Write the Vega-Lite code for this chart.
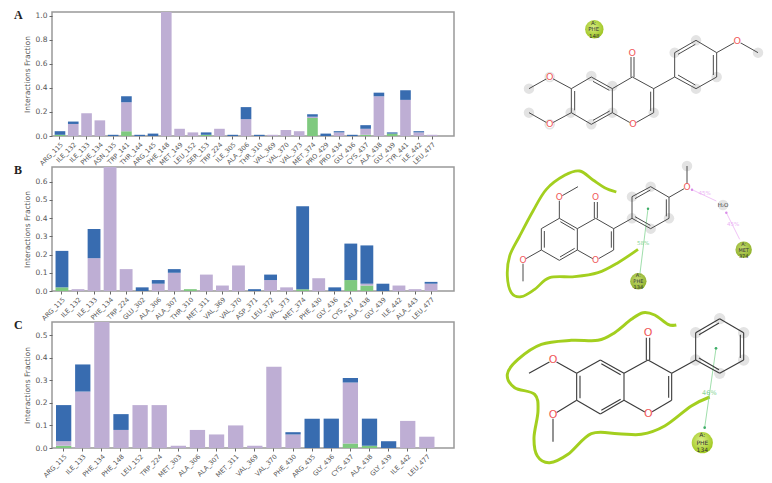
{"$schema":"https://vega.github.io/schema/vega-lite/v6.json","padding":{"left":13,"top":7,"right":0,"bottom":0},"background":"white","spacing":23,"config":{"view":{"stroke":null},"axis":{"labelFont":"DejaVu Sans","titleFont":"DejaVu Sans","titleFontWeight":"normal","labelColor":"#555555","titleColor":"#555555","tickColor":"#666666","tickSize":3,"domain":false,"grid":false},"title":{"font":"Liberation Serif","fontWeight":"bold","fontSize":12,"color":"#222222"}},"hconcat":[{"bounds":"flush","spacing":31,"vconcat":[{"width":402,"height":124,"title":{"text":"A","anchor":"start","frame":"group","dx":-38,"dy":10,"offset":0},"view":{"stroke":"#999999","strokeWidth":1.5},"data":{"values":[{"r":"ARG_115","t":"H","f":0.01,"k":1},{"r":"ARG_115","t":"W","f":0.03,"k":3},{"r":"ILE_132","t":"P","f":0.1,"k":2},{"r":"ILE_132","t":"W","f":0.02,"k":3},{"r":"ILE_133","t":"P","f":0.19,"k":2},{"r":"PHE_134","t":"P","f":0.13,"k":2},{"r":"ASN_135","t":"W","f":0.01,"k":3},{"r":"TRP_141","t":"H","f":0.04,"k":1},{"r":"TRP_141","t":"P","f":0.24,"k":2},{"r":"TRP_141","t":"W","f":0.05,"k":3},{"r":"THR_144","t":"W","f":0.01,"k":3},{"r":"ARG_145","t":"W","f":0.02,"k":3},{"r":"PHE_148","t":"P","f":1.03,"k":2},{"r":"MET_149","t":"P","f":0.06,"k":2},{"r":"LEU_152","t":"P","f":0.03,"k":2},{"r":"SER_153","t":"H","f":0.01,"k":1},{"r":"SER_153","t":"W","f":0.02,"k":3},{"r":"TRP_224","t":"P","f":0.06,"k":2},{"r":"ILE_305","t":"W","f":0.01,"k":3},{"r":"ALA_306","t":"P","f":0.14,"k":2},{"r":"ALA_306","t":"W","f":0.1,"k":3},{"r":"THR_310","t":"W","f":0.01,"k":3},{"r":"VAL_369","t":"P","f":0.01,"k":2},{"r":"VAL_370","t":"P","f":0.05,"k":2},{"r":"VAL_373","t":"P","f":0.04,"k":2},{"r":"MET_374","t":"H","f":0.15,"k":1},{"r":"MET_374","t":"P","f":0.01,"k":2},{"r":"MET_374","t":"W","f":0.02,"k":3},{"r":"PRO_429","t":"W","f":0.02,"k":3},{"r":"PRO_434","t":"P","f":0.03,"k":2},{"r":"PRO_434","t":"W","f":0.01,"k":3},{"r":"GLY_436","t":"W","f":0.01,"k":3},{"r":"CYS_437","t":"H","f":0.01,"k":1},{"r":"CYS_437","t":"P","f":0.05,"k":2},{"r":"CYS_437","t":"W","f":0.03,"k":3},{"r":"ALA_438","t":"P","f":0.33,"k":2},{"r":"ALA_438","t":"W","f":0.03,"k":3},{"r":"GLY_439","t":"H","f":0.02,"k":1},{"r":"GLY_439","t":"W","f":0.01,"k":3},{"r":"TYR_441","t":"P","f":0.3,"k":2},{"r":"TYR_441","t":"W","f":0.08,"k":3},{"r":"ILE_442","t":"P","f":0.03,"k":2},{"r":"ILE_442","t":"W","f":0.01,"k":3},{"r":"LEU_477","t":"P","f":0.01,"k":2}]},"mark":{"type":"bar","clip":true},"encoding":{"x":{"field":"r","type":"nominal","sort":null,"title":null,"scale":{"paddingInner":0.2,"paddingOuter":0.725,"align":0.138},"axis":{"labelAngle":-45,"labelFontSize":6.5}},"y":{"field":"f","type":"quantitative","stack":"zero","title":"Interactions Fraction","scale":{"domain":[0,1.03],"nice":false},"axis":{"values":[0,0.2,0.4,0.6,0.8,1],"format":".1f","labelFontSize":7.5,"titleFontSize":7.5,"titlePadding":4}},"color":{"field":"t","type":"nominal","legend":null,"scale":{"domain":["H","P","W"],"range":["#7fc97f","#beaed4","#386cb0"]}},"order":{"field":"k"}}},{"width":402,"height":124,"title":{"text":"B","anchor":"start","frame":"group","dx":-38,"dy":10,"offset":0},"view":{"stroke":"#999999","strokeWidth":1.5},"data":{"values":[{"r":"ARG_115","t":"H","f":0.02,"k":1},{"r":"ARG_115","t":"W","f":0.2,"k":3},{"r":"ILE_132","t":"P","f":0.01,"k":2},{"r":"ILE_133","t":"P","f":0.18,"k":2},{"r":"ILE_133","t":"W","f":0.16,"k":3},{"r":"PHE_134","t":"P","f":0.69,"k":2},{"r":"TRP_224","t":"P","f":0.12,"k":2},{"r":"GLU_302","t":"W","f":0.02,"k":3},{"r":"ALA_306","t":"P","f":0.04,"k":2},{"r":"ALA_306","t":"W","f":0.02,"k":3},{"r":"ALA_307","t":"P","f":0.1,"k":2},{"r":"ALA_307","t":"W","f":0.02,"k":3},{"r":"THR_310","t":"H","f":0.01,"k":1},{"r":"MET_311","t":"P","f":0.09,"k":2},{"r":"VAL_369","t":"P","f":0.03,"k":2},{"r":"VAL_370","t":"P","f":0.14,"k":2},{"r":"ASP_371","t":"W","f":0.01,"k":3},{"r":"LEU_372","t":"P","f":0.06,"k":2},{"r":"LEU_372","t":"W","f":0.03,"k":3},{"r":"VAL_373","t":"P","f":0.02,"k":2},{"r":"MET_374","t":"H","f":0.01,"k":1},{"r":"MET_374","t":"W","f":0.455,"k":3},{"r":"PHE_430","t":"P","f":0.07,"k":2},{"r":"GLY_436","t":"W","f":0.02,"k":3},{"r":"CYS_437","t":"H","f":0.06,"k":1},{"r":"CYS_437","t":"W","f":0.2,"k":3},{"r":"ALA_438","t":"H","f":0.03,"k":1},{"r":"ALA_438","t":"P","f":0.01,"k":2},{"r":"ALA_438","t":"W","f":0.21,"k":3},{"r":"GLY_439","t":"W","f":0.04,"k":3},{"r":"ILE_442","t":"P","f":0.03,"k":2},{"r":"ALA_443","t":"P","f":0.01,"k":2},{"r":"LEU_477","t":"P","f":0.04,"k":2},{"r":"LEU_477","t":"W","f":0.01,"k":3}]},"mark":{"type":"bar","clip":true},"encoding":{"x":{"field":"r","type":"nominal","sort":null,"title":null,"scale":{"paddingInner":0.2,"paddingOuter":0.625,"align":0.176},"axis":{"labelAngle":-45,"labelFontSize":6.5}},"y":{"field":"f","type":"quantitative","stack":"zero","title":"Interactions Fraction","scale":{"domain":[0,0.68],"nice":false},"axis":{"values":[0,0.1,0.2,0.3,0.4,0.5,0.6],"format":".1f","labelFontSize":7.5,"titleFontSize":7.5,"titlePadding":4}},"color":{"field":"t","type":"nominal","legend":null,"scale":{"domain":["H","P","W"],"range":["#7fc97f","#beaed4","#386cb0"]}},"order":{"field":"k"}}},{"width":402,"height":126,"title":{"text":"C","anchor":"start","frame":"group","dx":-38,"dy":10,"offset":0},"view":{"stroke":"#999999","strokeWidth":1.5},"data":{"values":[{"r":"ARG_115","t":"H","f":0.01,"k":1},{"r":"ARG_115","t":"P","f":0.02,"k":2},{"r":"ARG_115","t":"W","f":0.16,"k":3},{"r":"ILE_133","t":"P","f":0.25,"k":2},{"r":"ILE_133","t":"W","f":0.12,"k":3},{"r":"PHE_134","t":"P","f":0.56,"k":2},{"r":"PHE_148","t":"P","f":0.08,"k":2},{"r":"PHE_148","t":"W","f":0.07,"k":3},{"r":"LEU_152","t":"P","f":0.19,"k":2},{"r":"TRP_224","t":"P","f":0.19,"k":2},{"r":"MET_303","t":"P","f":0.01,"k":2},{"r":"ALA_306","t":"P","f":0.08,"k":2},{"r":"ALA_307","t":"P","f":0.06,"k":2},{"r":"MET_311","t":"P","f":0.1,"k":2},{"r":"VAL_369","t":"P","f":0.01,"k":2},{"r":"VAL_370","t":"P","f":0.36,"k":2},{"r":"PHE_430","t":"P","f":0.06,"k":2},{"r":"PHE_430","t":"W","f":0.01,"k":3},{"r":"ARG_435","t":"W","f":0.13,"k":3},{"r":"GLY_436","t":"W","f":0.13,"k":3},{"r":"CYS_437","t":"H","f":0.02,"k":1},{"r":"CYS_437","t":"P","f":0.27,"k":2},{"r":"CYS_437","t":"W","f":0.02,"k":3},{"r":"ALA_438","t":"H","f":0.01,"k":1},{"r":"ALA_438","t":"W","f":0.12,"k":3},{"r":"GLY_439","t":"W","f":0.03,"k":3},{"r":"ILE_442","t":"P","f":0.12,"k":2},{"r":"LEU_477","t":"P","f":0.05,"k":2}]},"mark":{"type":"bar","clip":true},"encoding":{"x":{"field":"r","type":"nominal","sort":null,"title":null,"scale":{"paddingInner":0.2,"paddingOuter":0.615,"align":0.17},"axis":{"labelAngle":-45,"labelFontSize":6.5}},"y":{"field":"f","type":"quantitative","stack":"zero","title":"Interactions Fraction","scale":{"domain":[0,0.558],"nice":false},"axis":{"values":[0,0.1,0.2,0.3,0.4,0.5],"format":".1f","labelFontSize":7.5,"titleFontSize":7.5,"titlePadding":4}},"color":{"field":"t","type":"nominal","legend":null,"scale":{"domain":["H","P","W"],"range":["#7fc97f","#beaed4","#386cb0"]}},"order":{"field":"k"}}}]},{"bounds":"flush","spacing":0,"vconcat":[{"width":292,"height":149,"encoding":{"x":{"field":"x","type":"quantitative","axis":null,"scale":{"domain":[0,876],"nice":false,"zero":false}},"y":{"field":"y","type":"quantitative","axis":null,"scale":{"domain":[480,33],"nice":false,"zero":false}}},"layer":[{"data":{"values":[{"x":340,"y":225},{"x":153,"y":263},{"x":153,"y":335},{"x":215,"y":228},{"x":215,"y":370},{"x":278,"y":335},{"x":340,"y":370},{"x":403,"y":255},{"x":403,"y":335},{"x":527,"y":335},{"x":590,"y":155},{"x":654,"y":118},{"x":716,"y":228},{"x":654,"y":263},{"x":840,"y":155}]},"mark":{"type":"circle","size":110,"color":"#e3e3e3","opacity":1}},{"data":{"values":[{"x":215,"y":228,"x2":153,"y2":263},{"x":215,"y":228,"x2":280,"y2":263},{"x":280,"y":263,"x2":340,"y2":228},{"x":340,"y":228,"x2":403,"y2":263},{"x":403,"y":263,"x2":463,"y2":228},{"x":463,"y":228,"x2":527,"y2":263},{"x":527,"y":263,"x2":527,"y2":335},{"x":527,"y":335,"x2":465,"y2":370},{"x":465,"y":370,"x2":403,"y2":335},{"x":403,"y":335,"x2":403,"y2":263},{"x":403,"y":335,"x2":340,"y2":370},{"x":340,"y":370,"x2":280,"y2":335},{"x":280,"y":335,"x2":280,"y2":263},{"x":280,"y":335,"x2":215,"y2":370},{"x":215,"y":370,"x2":153,"y2":335},{"x":527,"y":263,"x2":590,"y2":228},{"x":590,"y":228,"x2":590,"y2":155},{"x":590,"y":155,"x2":654,"y2":118},{"x":654,"y":118,"x2":716,"y2":155},{"x":716,"y":155,"x2":716,"y2":228},{"x":716,"y":228,"x2":654,"y2":263},{"x":654,"y":263,"x2":590,"y2":228},{"x":716,"y":155,"x2":778,"y2":120},{"x":778,"y":120,"x2":840,"y2":155},{"x":345,"y":241,"x2":394,"y2":268},{"x":290,"y":270,"x2":290,"y2":328},{"x":345,"y":358,"x2":395,"y2":330},{"x":518,"y":272,"x2":518,"y2":330},{"x":600,"y":160,"x2":652,"y2":130},{"x":706,"y":162,"x2":706,"y2":222},{"x":652,"y":252,"x2":600,"y2":222},{"x":459,"y":168,"x2":459,"y2":228},{"x":468,"y":168,"x2":468,"y2":228}]},"mark":{"type":"rule","color":"#4a4a4a","strokeWidth":1},"encoding":{"x2":{"field":"x2"},"y2":{"field":"y2"}}},{"data":{"values":[{"x":215,"y":228},{"x":215,"y":370},{"x":463,"y":155},{"x":465,"y":370},{"x":778,"y":120}]},"mark":{"type":"circle","size":55,"color":"white","opacity":1}},{"data":{"values":[{"x":215,"y":228,"a":"O"},{"x":215,"y":370,"a":"O"},{"x":463,"y":155,"a":"O"},{"x":465,"y":370,"a":"O"},{"x":778,"y":120,"a":"O"}]},"mark":{"type":"text","font":"DejaVu Sans","fontSize":9.5,"color":"#f0595a","baseline":"middle"},"encoding":{"text":{"field":"a"}}},{"data":{"values":[{"x":349,"y":85}]},"mark":{"type":"circle","size":340,"opacity":1,"color":{"gradient":"radial","x1":0.45,"y1":0.4,"x2":0.45,"y2":0.4,"r1":0,"r2":0.6,"stops":[{"offset":0,"color":"#d6ec84"},{"offset":1,"color":"#9dc41e"}]}}},{"data":{"values":[{"x":347,"y":65,"a":"A:"},{"x":347,"y":85,"a":"PHE"},{"x":349,"y":104,"a":"148"}]},"mark":{"type":"text","font":"DejaVu Sans","fontSize":5.5,"color":"#333333","baseline":"middle"},"encoding":{"text":{"field":"a"}}}]},{"width":292,"height":150,"encoding":{"x":{"field":"x","type":"quantitative","axis":null,"scale":{"domain":[0,876],"nice":false,"zero":false}},"y":{"field":"y","type":"quantitative","axis":null,"scale":{"domain":[465,15],"nice":false,"zero":false}}},"layer":[{"data":{"values":[{"x":627,"y":30},{"x":462,"y":122},{"x":518,"y":92},{"x":462,"y":187},{"x":573,"y":187},{"x":518,"y":218}]},"mark":{"type":"circle","size":110,"color":"#e3e3e3","opacity":1}},{"data":{"values":[{"i":1,"x":415,"y":108},{"i":2,"x":380,"y":95},{"i":3,"x":345,"y":72},{"i":4,"x":305,"y":45},{"i":5,"x":260,"y":58},{"i":6,"x":205,"y":100},{"i":7,"x":165,"y":165},{"i":8,"x":125,"y":240},{"i":9,"x":95,"y":300},{"i":10,"x":88,"y":360},{"i":11,"x":100,"y":410},{"i":12,"x":130,"y":422},{"i":13,"x":170,"y":400},{"i":14,"x":215,"y":365},{"i":15,"x":290,"y":362},{"i":16,"x":360,"y":350},{"i":17,"x":420,"y":320},{"i":18,"x":480,"y":280}]},"mark":{"type":"line","color":"#a3cf1f","strokeWidth":2.8,"interpolate":"cardinal"},"encoding":{"order":{"field":"i"}}},{"data":{"values":[{"x":510,"y":158,"x2":484,"y2":368,"c":"#86d596"},{"x":640,"y":100,"x2":715,"y2":135,"c":"#ecb4f4"},{"x":785,"y":250,"x2":745,"y2":170,"c":"#ecb4f4"}]},"mark":{"type":"rule","strokeWidth":0.8},"encoding":{"x2":{"field":"x2"},"y2":{"field":"y2"},"color":{"field":"c","type":"nominal","scale":null}}},{"data":{"values":[{"x":510,"y":158,"c":"#3fae68"},{"x":484,"y":368,"c":"#3fae68"},{"x":642,"y":101,"c":"#d98ce8"},{"x":745,"y":170,"c":"#d98ce8"}]},"mark":{"type":"circle","size":6,"opacity":1},"encoding":{"color":{"field":"c","type":"nominal","scale":null}}},{"data":{"values":[{"x":244,"y":124,"x2":300,"y2":92},{"x":244,"y":124,"x2":244,"y2":187},{"x":244,"y":187,"x2":190,"y2":218},{"x":190,"y":218,"x2":190,"y2":282},{"x":190,"y":282,"x2":244,"y2":313},{"x":244,"y":313,"x2":298,"y2":282},{"x":298,"y":282,"x2":298,"y2":218},{"x":298,"y":218,"x2":244,"y2":187},{"x":298,"y":218,"x2":353,"y2":187},{"x":353,"y":187,"x2":407,"y2":218},{"x":407,"y":218,"x2":407,"y2":282},{"x":407,"y":282,"x2":353,"y2":313},{"x":353,"y":313,"x2":298,"y2":282},{"x":190,"y":282,"x2":135,"y2":313},{"x":135,"y":313,"x2":135,"y2":376},{"x":407,"y":218,"x2":462,"y2":187},{"x":462,"y":187,"x2":462,"y2":122},{"x":462,"y":122,"x2":518,"y2":92},{"x":518,"y":92,"x2":573,"y2":124},{"x":573,"y":124,"x2":573,"y2":187},{"x":573,"y":187,"x2":518,"y2":218},{"x":518,"y":218,"x2":462,"y2":187},{"x":573,"y":124,"x2":627,"y2":93},{"x":627,"y":93,"x2":627,"y2":30},{"x":247,"y":197,"x2":290,"y2":222},{"x":199,"y":225,"x2":199,"y2":275},{"x":246,"y":303,"x2":290,"y2":277},{"x":400,"y":226,"x2":400,"y2":275},{"x":471,"y":128,"x2":517,"y2":102},{"x":565,"y":130,"x2":565,"y2":181},{"x":517,"y":208,"x2":471,"y2":182},{"x":349,"y":138,"x2":349,"y2":187},{"x":358,"y":138,"x2":358,"y2":187}]},"mark":{"type":"rule","color":"#4a4a4a","strokeWidth":1},"encoding":{"x2":{"field":"x2"},"y2":{"field":"y2"}}},{"data":{"values":[{"x":244,"y":124},{"x":353,"y":124},{"x":353,"y":313},{"x":135,"y":313},{"x":627,"y":93}]},"mark":{"type":"circle","size":45,"color":"white","opacity":1}},{"data":{"values":[{"x":244,"y":124,"a":"O"},{"x":353,"y":124,"a":"O"},{"x":353,"y":313,"a":"O"},{"x":135,"y":313,"a":"O"},{"x":627,"y":93,"a":"O"}]},"mark":{"type":"text","font":"DejaVu Sans","fontSize":9,"color":"#f0595a","baseline":"middle"},"encoding":{"text":{"field":"a"}}},{"data":{"values":[{"x":495,"y":262,"a":"58%","c":"#86d596"},{"x":680,"y":111,"a":"45%","c":"#ecb4f4"},{"x":765,"y":205,"a":"45%","c":"#ecb4f4"}]},"mark":{"type":"text","font":"DejaVu Sans","fontSize":5.5,"baseline":"middle"},"encoding":{"text":{"field":"a"},"color":{"field":"c","type":"nominal","scale":null}}},{"data":{"values":[{"x":735,"y":147}]},"mark":{"type":"circle","size":110,"color":"#e4e4e4","opacity":1}},{"data":{"values":[{"x":735,"y":147,"a":"H₂O"}]},"mark":{"type":"text","font":"DejaVu Sans","fontSize":5.5,"color":"#333333","baseline":"middle"},"encoding":{"text":{"field":"a"}}},{"data":{"values":[{"x":481,"y":376},{"x":797,"y":281}]},"mark":{"type":"circle","size":270,"opacity":1,"color":{"gradient":"radial","x1":0.45,"y1":0.4,"x2":0.45,"y2":0.4,"r1":0,"r2":0.6,"stops":[{"offset":0,"color":"#c6dc72"},{"offset":1,"color":"#8fb12a"}]}}},{"data":{"values":[{"x":481,"y":358,"a":"A:"},{"x":481,"y":375,"a":"PHE"},{"x":481,"y":393,"a":"134"},{"x":797,"y":263,"a":"A:"},{"x":797,"y":281,"a":"MET"},{"x":797,"y":299,"a":"374"}]},"mark":{"type":"text","font":"DejaVu Sans","fontSize":5,"color":"#333333","baseline":"middle"},"encoding":{"text":{"field":"a"}}}]},{"width":292,"height":173,"encoding":{"x":{"field":"x","type":"quantitative","axis":null,"scale":{"domain":[0,876],"nice":false,"zero":false}},"y":{"field":"y","type":"quantitative","axis":null,"scale":{"domain":[519,0],"nice":false,"zero":false}}},"layer":[{"data":{"values":[{"x":653,"y":65},{"x":725,"y":23},{"x":797,"y":65},{"x":797,"y":147},{"x":725,"y":187},{"x":653,"y":147}]},"mark":{"type":"circle","size":130,"color":"#e3e3e3","opacity":1}},{"data":{"values":[{"i":1,"x":595,"y":42},{"i":2,"x":570,"y":40},{"i":3,"x":530,"y":12},{"i":4,"x":495,"y":5},{"i":5,"x":460,"y":25},{"i":6,"x":410,"y":65},{"i":7,"x":360,"y":88},{"i":8,"x":280,"y":88},{"i":9,"x":190,"y":100},{"i":10,"x":120,"y":145},{"i":11,"x":88,"y":190},{"i":12,"x":110,"y":230},{"i":13,"x":170,"y":250},{"i":14,"x":180,"y":300},{"i":15,"x":168,"y":380},{"i":16,"x":178,"y":435},{"i":17,"x":215,"y":455},{"i":18,"x":270,"y":430},{"i":19,"x":340,"y":368},{"i":20,"x":420,"y":368},{"i":21,"x":490,"y":370},{"i":22,"x":560,"y":345},{"i":23,"x":640,"y":285},{"i":24,"x":695,"y":258}]},"mark":{"type":"line","color":"#a3cf1f","strokeWidth":3,"interpolate":"cardinal"},"encoding":{"order":{"field":"i"}}},{"data":{"values":[{"x":714,"y":112,"x2":680,"y2":350}]},"mark":{"type":"rule","color":"#86d596","strokeWidth":0.8},"encoding":{"x2":{"field":"x2"},"y2":{"field":"y2"}}},{"data":{"values":[{"x":714,"y":112},{"x":680,"y":350}]},"mark":{"type":"circle","size":7,"color":"#3fae68","opacity":1}},{"data":{"values":[{"x":225,"y":147,"x2":153,"y2":187},{"x":225,"y":147,"x2":296,"y2":187},{"x":296,"y":187,"x2":367,"y2":147},{"x":367,"y":147,"x2":438,"y2":187},{"x":438,"y":187,"x2":510,"y2":147},{"x":510,"y":147,"x2":581,"y2":187},{"x":581,"y":187,"x2":581,"y2":268},{"x":581,"y":268,"x2":511,"y2":309},{"x":511,"y":309,"x2":438,"y2":268},{"x":438,"y":268,"x2":438,"y2":187},{"x":438,"y":268,"x2":367,"y2":309},{"x":367,"y":309,"x2":296,"y2":268},{"x":296,"y":268,"x2":296,"y2":187},{"x":296,"y":268,"x2":225,"y2":311},{"x":225,"y":311,"x2":225,"y2":392},{"x":581,"y":187,"x2":653,"y2":147},{"x":653,"y":147,"x2":653,"y2":65},{"x":653,"y":65,"x2":725,"y2":23},{"x":725,"y":23,"x2":797,"y2":65},{"x":797,"y":65,"x2":797,"y2":147},{"x":797,"y":147,"x2":725,"y2":187},{"x":725,"y":187,"x2":653,"y2":147},{"x":370,"y":158,"x2":428,"y2":191},{"x":306,"y":194,"x2":306,"y2":262},{"x":370,"y":298,"x2":428,"y2":265},{"x":572,"y":195,"x2":572,"y2":260},{"x":663,"y":71,"x2":723,"y2":36},{"x":787,"y":71,"x2":787,"y2":141},{"x":723,"y":176,"x2":663,"y2":141},{"x":505,"y":80,"x2":505,"y2":147},{"x":515,"y":80,"x2":515,"y2":147}]},"mark":{"type":"rule","color":"#3a3a3a","strokeWidth":1.1},"encoding":{"x2":{"field":"x2"},"y2":{"field":"y2"}}},{"data":{"values":[{"x":225,"y":147},{"x":510,"y":65},{"x":511,"y":309},{"x":225,"y":311}]},"mark":{"type":"circle","size":70,"color":"white","opacity":1}},{"data":{"values":[{"x":225,"y":147,"a":"O"},{"x":510,"y":65,"a":"O"},{"x":511,"y":309,"a":"O"},{"x":225,"y":311,"a":"O"}]},"mark":{"type":"text","font":"DejaVu Sans","fontSize":11,"color":"#f0595a","baseline":"middle"},"encoding":{"text":{"field":"a"}}},{"data":{"values":[{"x":694,"y":245,"a":"46%"}]},"mark":{"type":"text","font":"DejaVu Sans","fontSize":6.5,"color":"#86d596","baseline":"middle"},"encoding":{"text":{"field":"a"}}},{"data":{"values":[{"x":673,"y":395}]},"mark":{"type":"circle","size":450,"opacity":1,"color":{"gradient":"radial","x1":0.45,"y1":0.4,"x2":0.45,"y2":0.4,"r1":0,"r2":0.6,"stops":[{"offset":0,"color":"#dcef8c"},{"offset":1,"color":"#a0c81e"}]}}},{"data":{"values":[{"x":673,"y":373,"a":"A:"},{"x":673,"y":395,"a":"PHE"},{"x":673,"y":418,"a":"134"}]},"mark":{"type":"text","font":"DejaVu Sans","fontSize":6,"color":"#333333","baseline":"middle"},"encoding":{"text":{"field":"a"}}}]}]}]}
